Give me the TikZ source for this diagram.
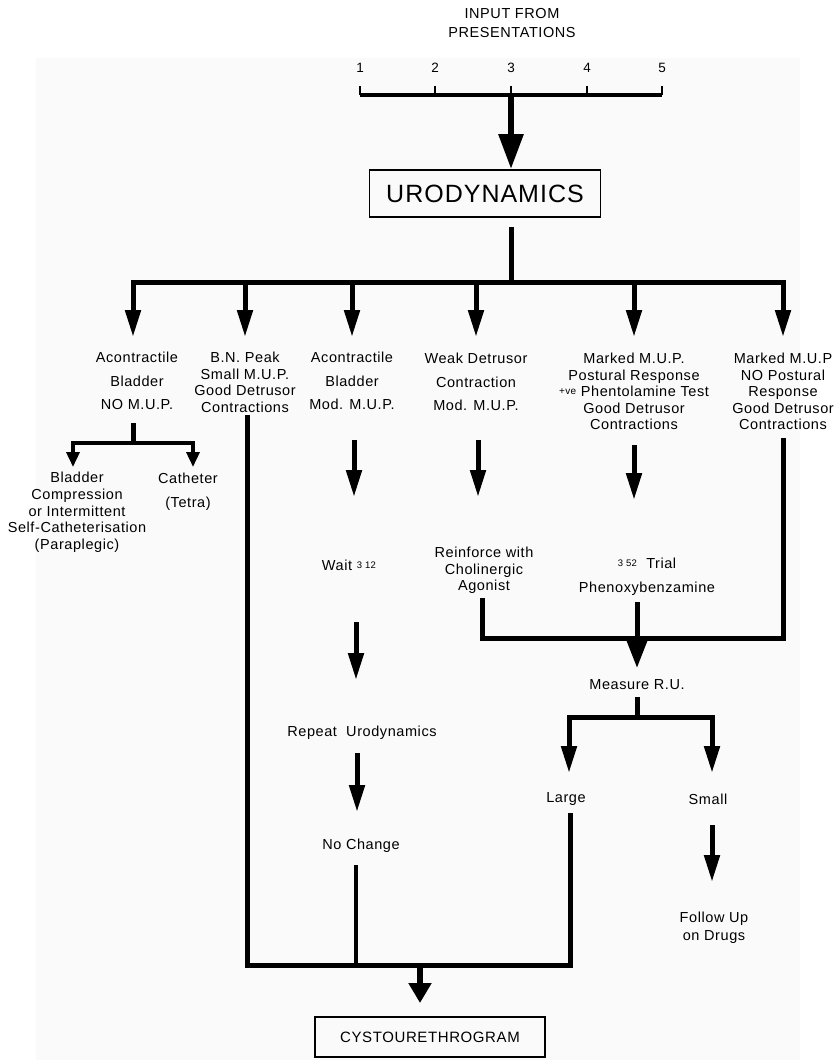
\documentclass[tikz,border=0pt]{standalone}
\usepackage{fontspec}
\setmainfont{Liberation Sans}[LetterSpace=4]
\usetikzlibrary{arrows.meta}
\newcommand\refnum[1]{\raisebox{2pt}{\fontsize{9.5}{10}\selectfont #1}}
\begin{document}
\begin{tikzpicture}[x=1pt,y=-1pt,line join=miter,
  lbl/.style={align=center,inner sep=0pt,anchor=north,font=\fontsize{14.5}{16.5}\selectfont},
  lbll/.style={lbl,font=\fontsize{14.5}{23.5}\selectfont},
  heavy/.style={line width=5pt},
  bigarr/.style={heavy,-{Triangle[width=15pt,length=27pt]}},
  smallarr/.style={line width=3.5pt,-{Triangle[width=13pt,length=15pt]}},
  boxed/.style={draw,line width=1.3pt,inner sep=0pt},
  numlbl/.style={inner sep=0pt,font=\fontsize{13.5}{13.5}\selectfont}]
\path[use as bounding box] (0,0) rectangle (836,1060);
\fill[black!2] (36,58) rectangle (800,1060);

% input
\node[lbl,font=\fontsize{14.5}{19}\selectfont] (input) at (512,8) {INPUT FROM\\PRESENTATIONS};
\foreach \i/\x in {1/360,2/435,3/511,4/587,5/662}{
  \node[numlbl] (n\i) at (\x,68) {\i};
  \coordinate (p\i) at (\x,95);
  \coordinate (t\i) at (\x,86);
  \draw[line width=1.5pt] (p\i) -- (t\i);
}
\draw[line width=4.5pt] (p1) -- (p5);

% urodynamics
\node[boxed,minimum width=231pt,minimum height=47pt,font=\fontsize{25}{25}\selectfont] (urod) at (485,193.5) {URODYNAMICS};
\coordinate (utip) at (511,169);
\draw[line width=6pt,-{Triangle[width=24pt,length=35pt]}] (p3) -- (utip);
\coordinate (ubot) at (511,227);
\coordinate (uj) at (511,282);
\draw[heavy] (ubot) -- (uj);
\foreach \k/\x in {1/133,2/245,3/352,4/476,5/634,6/783}{
  \coordinate (a\k) at (\x,337);
  \draw[bigarr] (uj) -| (a\k);
}

% column texts
\node[lbll] (c1) at (137,352) {Acontractile\\Bladder\\NO M.U.P.};
\node[lbl] (c2) at (245,352) {B.N. Peak\\Small M.U.P.\\Good Detrusor\\Contractions};
\node[lbll] (c3) at (352,352) {Acontractile\\Bladder\\Mod. M.U.P.};
\node[lbll] (c4) at (476,353) {Weak Detrusor\\Contraction\\Mod. M.U.P.};
\node[lbl] (c5) at (634,353) {Marked M.U.P.\\Postural Response\\\raisebox{2pt}{\fontsize{10}{10}\selectfont +ve} Phentolamine Test\\Good Detrusor\\Contractions};
\node[lbl] (c6) at (783,353) {Marked M.U.P\\NO Postural\\Response\\Good Detrusor\\Contractions};

% column 1 subtree
\coordinate (c1b) at (133,423);
\coordinate (sj) at (133,443);
\coordinate (s1tip) at (73,467);
\coordinate (s2tip) at (193,467);
\draw[heavy] (c1b) -- (sj);
\draw[smallarr] (sj) -| (s1tip);
\draw[smallarr] (sj) -| (s2tip);
\node[lbl,font=\fontsize{14.5}{16.75}\selectfont] (s1) at (77,472) {Bladder\\Compression\\or Intermittent\\Self-Catheterisation\\(Paraplegic)};
\node[lbl,font=\fontsize{14.5}{24}\selectfont] (s2) at (188,473) {Catheter\\(Tetra)};

% column 3 chain
\coordinate (c3b) at (354,440); \coordinate (c3t) at (354,497);
\draw[bigarr] (c3b) -- (c3t);
\node[lbl] (wait) at (349,560) {Wait \refnum{3 12}};
\coordinate (w1) at (356,622); \coordinate (w2) at (356,680);
\draw[bigarr] (w1) -- (w2);
\node[lbl] (rep) at (362,726) {Repeat\ \ Urodynamics};
\coordinate (r1) at (357,753); \coordinate (r2) at (357,812);
\draw[bigarr] (r1) -- (r2);
\node[lbl] (nc) at (361,839) {No Change};
\coordinate (nc1) at (356,865);
\coordinate (bm2) at (356,965);
\draw[line width=4pt] (nc1) -- (bm2);

% column 4 chain
\coordinate (c4b) at (478,440); \coordinate (c4t) at (478,497);
\draw[bigarr] (c4b) -- (c4t);
\node[lbl] (rein) at (484,547) {Reinforce with\\Cholinergic\\Agonist};

% column 5 chain
\coordinate (c5b) at (634,445); \coordinate (c5t) at (634,500);
\draw[bigarr] (c5b) -- (c5t);
\node[lbl,font=\fontsize{14.5}{24}\selectfont] (phen) at (647,558) {\refnum{3 52}\ \ Trial\\Phenoxybenzamine};

% merge to measure
\coordinate (rb) at (482,598);
\coordinate (rc) at (482,638);
\coordinate (c6c) at (783,638);
\coordinate (c6b) at (783,438);
\draw[heavy] (rb) -- (rc) -- (c6c) -- (c6b);
\coordinate (ph1) at (637,602); \coordinate (ph2) at (637,668);
\draw[heavy,-{Triangle[width=20pt,length=28pt]}] (ph1) -- (ph2);
\node[lbl] (meas) at (637,679) {Measure R.U.};
\coordinate (m1) at (637,697);
\coordinate (mj) at (637,717);
\draw[heavy] (m1) -- (mj);
\coordinate (ltip) at (569,773);
\coordinate (stip) at (712,773);
\draw[bigarr] (mj) -| (ltip);
\draw[bigarr] (mj) -| (stip);
\node[lbl] (large) at (566,792) {Large};
\node[lbl] (small) at (708,794) {Small};
\coordinate (sm1) at (712,825); \coordinate (sm2) at (712,882);
\draw[bigarr] (sm1) -- (sm2);
\node[lbl,font=\fontsize{14.5}{18}\selectfont] (follow) at (714,912) {Follow Up\\on Drugs};

% bottom collector
\coordinate (c2b) at (247,415);
\coordinate (bl) at (247,965);
\coordinate (br) at (570,965);
\coordinate (lgb) at (570,813);
\draw[heavy] (c2b) -- (bl) -- (br) -- (lgb);
\coordinate (bm) at (420,965);
\coordinate (ctip) at (420,1003);
\draw[line width=6pt,-{Triangle[width=22pt,length=20pt]}] (bm) -- (ctip);
\node[boxed,minimum width=230pt,minimum height=40pt,font=\fontsize{15}{15}\selectfont] (cyst) at (430,1037) {CYSTOURETHROGRAM};
\end{tikzpicture}
\end{document}
